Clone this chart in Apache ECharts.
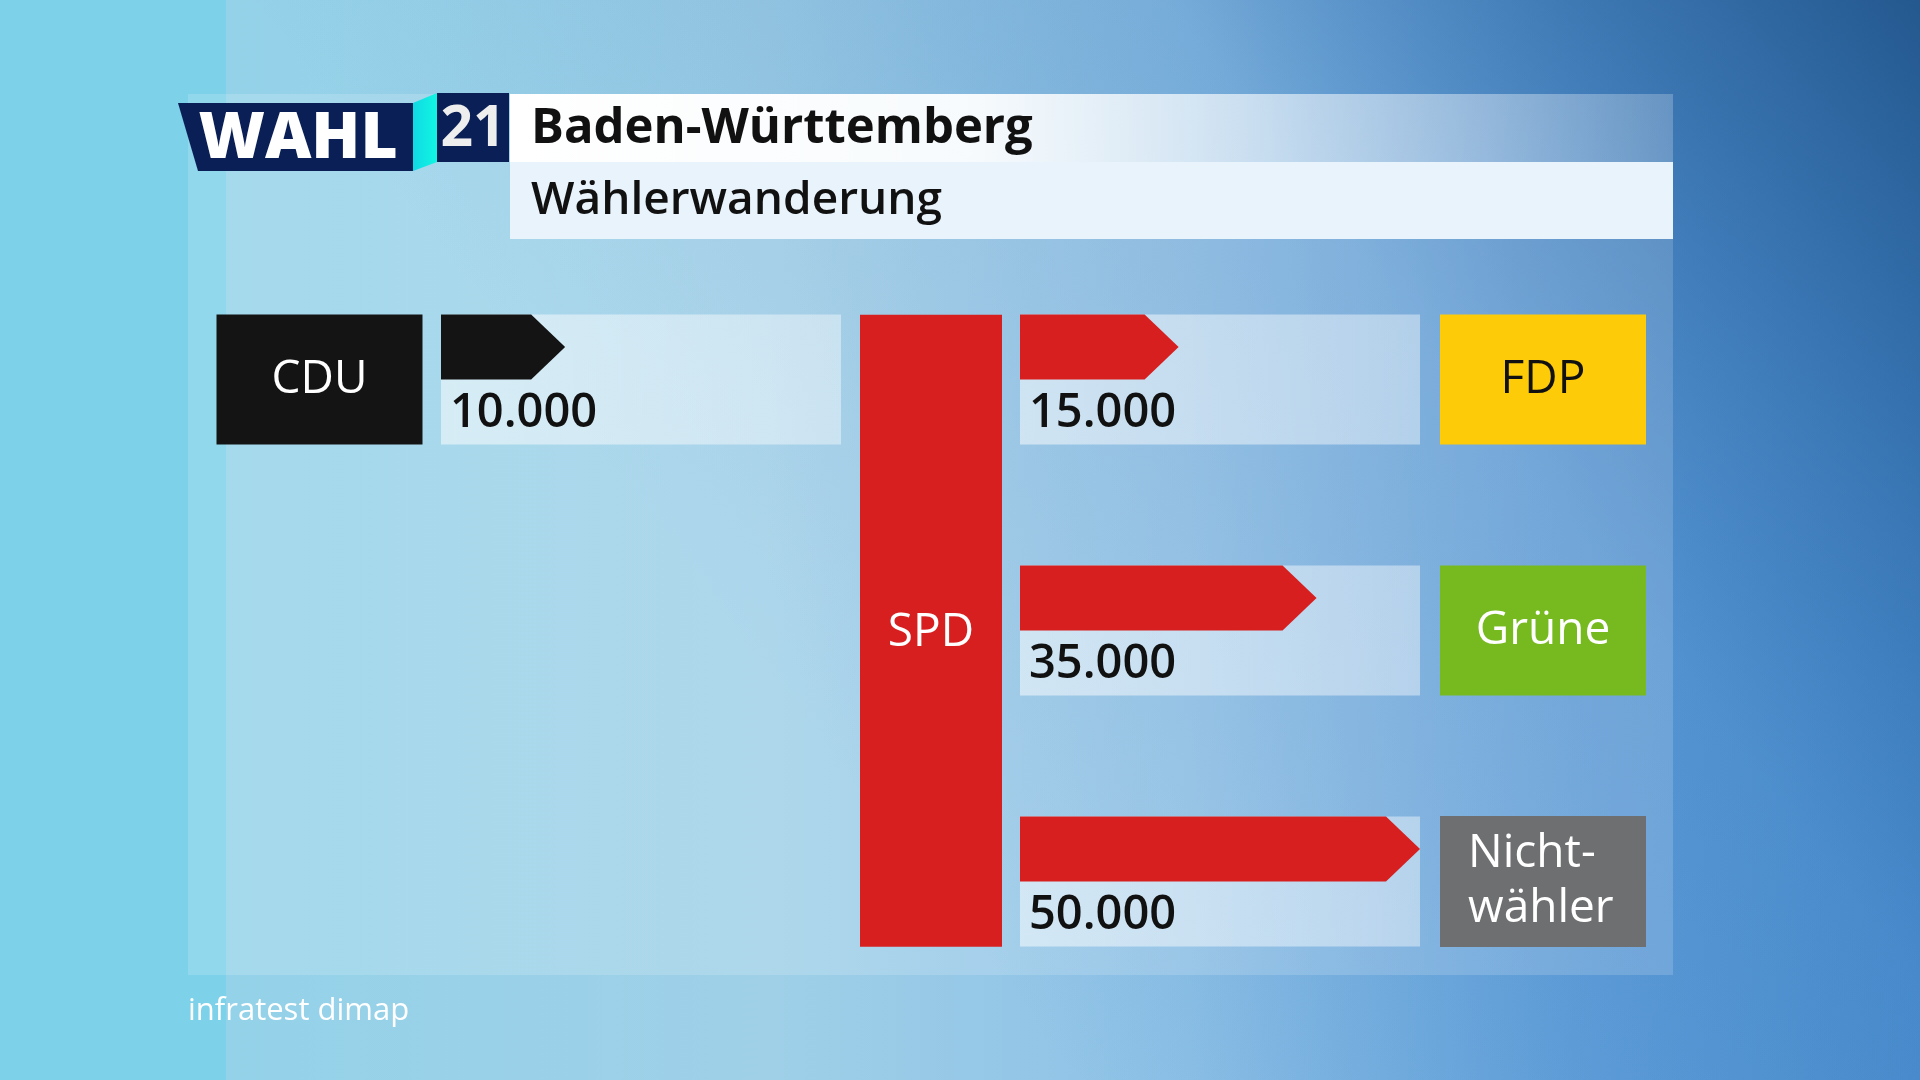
<!DOCTYPE html>
<html>
<head>
<meta charset="utf-8">
<title>Baden-Württemberg – Wählerwanderung</title>
<script src="https://cdn.jsdelivr.net/npm/echarts@6/dist/echarts.min.js"></script>
<style>
  html, body { margin: 0; padding: 0; width: 1920px; height: 1080px; overflow: hidden; }
  #chart { width: 1920px; height: 1080px; }
</style>
</head>
<body>
<div id="chart"></div>
<script>
// Voter flows of the SPD, Landtagswahl Baden-Württemberg 2021
const centerParty = 'SPD';
const gainParties = ['CDU'];                          // voters won by the SPD
const gainValues = [10000];
const lossParties = ['FDP', 'Grüne', 'Nichtwähler'];  // voters lost by the SPD
const lossValues = [15000, 35000, 50000];

const partyColors = {
  'CDU': '#141414', 'SPD': '#d71f1f', 'FDP': '#fdcb08',
  'Grüne': '#77ba1f', 'Nichtwähler': '#6e6f71'
};
const partyTextColors = {
  'CDU': '#ffffff', 'SPD': '#ffffff', 'FDP': '#111111',
  'Grüne': '#ffffff', 'Nichtwähler': '#ffffff'
};
const partyLines = {
  'CDU': ['CDU'], 'FDP': ['FDP'], 'Grüne': ['Grüne'], 'Nichtwähler': ['Nicht-', 'wähler']
};

const FONT = '"Open Sans", "Noto Sans", sans-serif';
const PANEL_FRAC = 0.518;   // panel height as a share of one row band
const TIP = 34;             // arrow head length in px

function fmtDE(v) {
  return String(Math.round(v)).replace(/\B(?=(\d{3})+(?!\d))/g, '.');
}

// one row: light panel, arrow from the axis start to the value, value label below
function renderFlow(params, api) {
  const cs = params.coordSys;
  const val = api.value(0);
  const cat = api.value(1);
  const pt = api.coord([val, cat]);
  const band = api.size([0, 1])[1];
  const h = band * PANEL_FRAC;
  const top = pt[1] - h / 2;
  const x0 = cs.x;
  const xTip = pt[0];
  const barH = h / 2;
  return {
    type: 'group',
    children: [
      { type: 'rect', shape: { x: x0, y: top, width: cs.width, height: h },
        style: { fill: new echarts.graphic.LinearGradient(0, 0, 1, 0, [
          { offset: 0, color: 'rgba(255,255,255,0.52)' },
          { offset: 1, color: 'rgba(255,255,255,0.42)' }]) } },
      { type: 'polygon',
        shape: { points: [[x0, top], [xTip - TIP, top], [xTip, top + barH / 2],
                          [xTip - TIP, top + barH], [x0, top + barH]] },
        style: { fill: api.visual('color') } },
      { type: 'text', x: x0 + 9, y: top + barH + (h - barH) / 2 + 2,
        style: { text: fmtDE(val), font: '600 47px ' + FONT, fill: '#111111',
                 align: 'left', verticalAlign: 'middle' } }
    ]
  };
}

// coloured party boxes drawn as rich axis labels
function richFor(parties) {
  const rich = {};
  parties.forEach((p, i) => {
    const lines = partyLines[p];
    const base = {
      backgroundColor: partyColors[p], color: partyTextColors[p],
      fontSize: 46, fontWeight: 500, fontFamily: FONT, verticalAlign: 'middle'
    };
    if (lines.length === 1) {
      rich['p' + i] = Object.assign({}, base, {
        width: 206, height: 130, lineHeight: 130, align: 'center'
      });
    } else {
      // two stacked halves; the boxes overlap by a pixel so no seam shows
      rich['p' + i + 'a'] = Object.assign({}, base, {
        width: 178, height: 56, lineHeight: 65, padding: [10, 0, 0, 28], align: 'left'
      });
      rich['p' + i + 'b'] = Object.assign({}, base, {
        width: 178, height: 56, lineHeight: 65, padding: [0, 0, 10, 28], align: 'left'
      });
    }
  });
  return rich;
}
function labelFor(parties) {
  return function (value) {
    const i = parties.indexOf(value);
    const lines = partyLines[value];
    if (lines.length === 1) return '{p' + i + '|' + lines[0] + '}';
    return '{p' + i + 'a|' + lines[0] + '}\n{p' + i + 'b|' + lines[1] + '}';
  };
}

function categoryAxis(gridIndex, parties, position, margin) {
  return {
    gridIndex: gridIndex, type: 'category', data: parties, inverse: true, position: position,
    axisLine: { show: false }, axisTick: { show: false }, splitLine: { show: false },
    axisLabel: { margin: margin, interval: 0, formatter: labelFor(parties), rich: richFor(parties) }
  };
}
function valueAxis(gridIndex) {
  return { gridIndex: gridIndex, type: 'value', min: -8000, max: 50000, show: false };
}

const chart = echarts.init(document.getElementById('chart'), null, { renderer: 'canvas' });

const option = {
  animation: false,
  grid: [
    { left: 441, top: 254.1, width: 400, height: 251 },
    { left: 1020, top: 254.1, width: 400, height: 753 }
  ],
  xAxis: [valueAxis(0), valueAxis(1)],
  yAxis: [
    categoryAxis(0, gainParties, 'left', 18.5),
    categoryAxis(1, lossParties, 'right', 20)
  ],
  series: [
    { type: 'custom', xAxisIndex: 0, yAxisIndex: 0, renderItem: renderFlow,
      itemStyle: { color: partyColors[gainParties[0]] },
      encode: { x: 0, y: 1 }, data: gainValues.map((v, i) => [v, i]) },
    { type: 'custom', xAxisIndex: 1, yAxisIndex: 1, renderItem: renderFlow,
      itemStyle: { color: partyColors[centerParty] },
      encode: { x: 0, y: 1 }, data: lossValues.map((v, i) => [v, i]) }
  ],
  graphic: [
    // backdrop
    { type: 'rect', z: -100, shape: { x: 0, y: 0, width: 1920, height: 1080 },
      style: { fill: new echarts.graphic.LinearGradient(0, 0, 1, 0, [
        { offset: 0, color: '#8fd3e9' },
        { offset: 0.4, color: '#9fd0e8' },
        { offset: 0.62, color: '#8cc0e6' },
        { offset: 0.82, color: '#64a3dd' },
        { offset: 1, color: '#5094d4' }]) } },
    { type: 'rect', z: -99, shape: { x: 0, y: 0, width: 1920, height: 1080 },
      style: { fill: new echarts.graphic.LinearGradient(1, 0, 0.45, 0.75, [
        { offset: 0, color: 'rgba(28,78,130,0.85)' },
        { offset: 0.45, color: 'rgba(40,100,170,0.22)' },
        { offset: 1, color: 'rgba(40,100,170,0)' }]) } },
    { type: 'rect', z: -98, shape: { x: 0, y: 0, width: 226, height: 1080 },
      style: { fill: '#7dd1e9' } },
    { type: 'rect', z: -97, shape: { x: 188, y: 94, width: 1485, height: 881 },
      style: { fill: 'rgba(255,255,255,0.16)' } },

    // header
    { type: 'polygon', z: 10, shape: { points: [[178, 103], [413, 103], [413, 171], [198, 171]] },
      style: { fill: '#0a1f56' } },
    { type: 'polygon', z: 10, shape: { points: [[413, 103], [437, 93], [437, 162], [413, 171]] },
      style: { fill: new echarts.graphic.LinearGradient(0, 0, 1, 0, [
        { offset: 0, color: '#10d9e4' }, { offset: 1, color: '#12f6e2' }]) } },
    { type: 'rect', z: 10, shape: { x: 437, y: 93, width: 72, height: 69 }, style: { fill: '#0a1f56' } },
    { type: 'text', z: 11, x: 298, y: 140,
      style: { text: 'WAHL', font: '800 64px ' + FONT, fill: '#ffffff', align: 'center', verticalAlign: 'middle' } },
    { type: 'text', z: 11, x: 473, y: 130,
      style: { text: '21', font: '700 57px ' + FONT, fill: '#eeeeee', align: 'center', verticalAlign: 'middle' } },
    { type: 'rect', z: 10, shape: { x: 510, y: 94, width: 1163, height: 68 },
      style: { fill: new echarts.graphic.LinearGradient(0, 0, 1, 0, [
        { offset: 0, color: 'rgba(255,255,255,1)' },
        { offset: 0.4, color: 'rgba(255,255,255,0.92)' },
        { offset: 0.7, color: 'rgba(255,255,255,0.45)' },
        { offset: 1, color: 'rgba(255,255,255,0.08)' }]) } },
    { type: 'rect', z: 10, shape: { x: 510, y: 162, width: 1163, height: 77 }, style: { fill: '#e8f3fc' } },
    { type: 'text', z: 11, x: 531, y: 129,
      style: { text: 'Baden-Württemberg', font: '700 49px ' + FONT, fill: '#111111', align: 'left', verticalAlign: 'middle' } },
    { type: 'text', z: 11, x: 531, y: 201,
      style: { text: 'Wählerwanderung', font: '600 46px ' + FONT, fill: '#111111', align: 'left', verticalAlign: 'middle' } },

    // SPD column between the two flow blocks
    { type: 'rect', z: 10, shape: { x: 860, y: 314.7, width: 142, height: 632 },
      style: { fill: partyColors[centerParty] } },
    { type: 'text', z: 11, x: 931, y: 633,
      style: { text: centerParty, font: '500 46px ' + FONT, fill: partyTextColors[centerParty],
               align: 'center', verticalAlign: 'middle' } },

    // source
    { type: 'text', z: 11, x: 188, y: 1011,
      style: { text: 'infratest dimap', font: '400 31px ' + FONT, fill: '#ffffff', align: 'left', verticalAlign: 'middle' } }
  ]
};

chart.setOption(option);
</script>
</body>
</html>
